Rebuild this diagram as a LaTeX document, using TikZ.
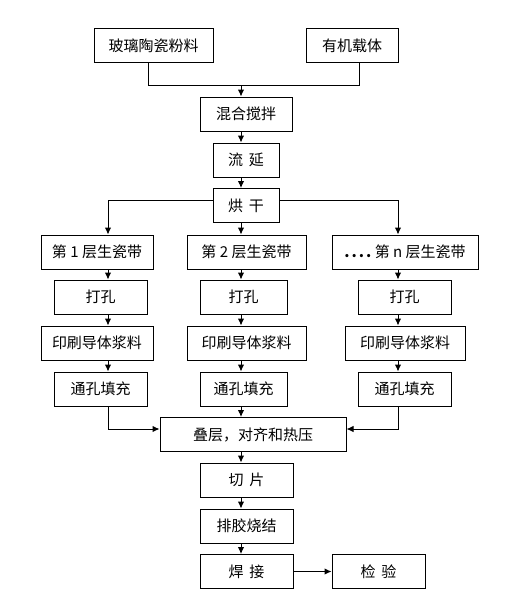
\documentclass[tikz,border=0pt]{standalone}
\usepackage{fontspec}
\setmainfont{Noto Sans CJK SC}
\usetikzlibrary{arrows.meta}
\newcommand{\gap}{\hspace{0.4em}}
\newcommand{\dotrow}{\textbf{.\kern2pt.\kern2pt.\kern2pt.}}
\tikzset{
  box/.style={draw, line width=1pt, inner sep=0pt, minimum height=34pt, font=\fontsize{15}{15}\selectfont},
  flow/.style={line width=1pt, -{Latex[length=7pt,width=6.5pt]}},
  link/.style={line width=1pt},
}
\begin{document}
\begin{tikzpicture}[x=1pt, y=-1pt]
    \useasboundingbox[fill=white] (0,0) rectangle (504,603);
    % Draw the raw materials and the common steps at the top.
    \node[box, minimum width=119pt] (glass) at (153.5,45.5) {玻璃陶瓷粉料};
    \node[box, minimum width=92pt] (vehicle) at (352,45.5) {有机载体};
    \node[box, minimum width=92pt] (mix) at (246,114) {混合搅拌};
    \node[box, minimum width=66pt] (cast) at (246,160) {流\gap 延};
    \node[box, minimum width=66pt] (dry) at (246,205.5) {烘\gap 干};
    % Columns of the arrows and the joining lines.
    \coordinate (colL) at (108,0);
    \coordinate (colM) at (241,0);
    \coordinate (colR) at (398,0);
    \coordinate (join) at (0,85);
    \coordinate (split) at (0,200);
    \coordinate (merge) at (0,429);
    % Draw the three green tape columns.
    \node[box, minimum width=112pt] (tapeA) at (97,252) {第 1 层生瓷带};
    \node[box, minimum width=119pt] (tapeB) at (246.5,252) {第 2 层生瓷带};
    \node[box, minimum width=146pt] (tapeC) at (405,252) {\dotrow\ 第 n 层生瓷带};
    \node[box, minimum width=93pt] (punchA) at (100.5,297) {打孔};
    \node[box, minimum width=87pt] (punchB) at (243.5,297) {打孔};
    \node[box, minimum width=93pt] (punchC) at (404.5,297) {打孔};
    \node[box, minimum width=112pt] (printA) at (97,343) {印刷导体浆料};
    \node[box, minimum width=119pt] (printB) at (246.5,343) {印刷导体浆料};
    \node[box, minimum width=120pt] (printC) at (405,343) {印刷导体浆料};
    \node[box, minimum width=93pt] (fillA) at (100.5,389) {通孔填充};
    \node[box, minimum width=87pt] (fillB) at (243.5,389) {通孔填充};
    \node[box, minimum width=93pt] (fillC) at (404.5,389) {通孔填充};
    % Draw the steps after lamination.
    \node[box, minimum width=186pt] (stack) at (253,434.5) {叠层，对齐和热压};
    \node[box, minimum width=93pt] (cut) at (246.5,480) {切\gap 片};
    \node[box, minimum width=93pt] (sinter) at (246.5,526) {排胶烧结};
    \node[box, minimum width=93pt] (weld) at (246.5,571.5) {焊\gap 接};
    \node[box, minimum width=93pt] (check) at (378.5,571.5) {检\gap 验};
    % Draw the joining of the two materials.
    \draw[link] (glass.south -| 148,0) |- (join -| colM);
    \draw[link] (vehicle.south -| 359,0) |- (join -| colM);
    \draw[flow] (join -| colM) -- (mix.north -| colM);
    \draw[flow] (mix.south -| colM) -- (cast.north -| colM);
    \draw[flow] (cast.south -| colM) -- (dry.north -| colM);
    % Draw the split into the columns.
    \draw[flow] (dry.west |- split) -| (tapeA.north -| colL);
    \draw[flow] (dry.east |- split) -| (tapeC.north -| colR);
    \draw[flow] (dry.south -| colM) -- (tapeB.north -| colM);
    \foreach \c/\col in {A/colL, B/colM, C/colR} {
      \draw[flow] (tape\c.south -| \col) -- (punch\c.north -| \col);
      \draw[flow] (punch\c.south -| \col) -- (print\c.north -| \col);
      \draw[flow] (print\c.south -| \col) -- (fill\c.north -| \col);
    }
    % Draw the merge into lamination and the last steps.
    \draw[flow] (fillA.south -| colL) |- (stack.west |- merge);
    \draw[flow] (fillC.south -| colR) |- (stack.east |- merge);
    \draw[flow] (fillB.south -| colM) -- (stack.north -| colM);
    \draw[flow] (stack.south -| colM) -- (cut.north -| colM);
    \draw[flow] (cut.south -| colM) -- (sinter.north -| colM);
    \draw[flow] (sinter.south -| colM) -- (weld.north -| colM);
    \draw[flow] (weld) -- (check);
\end{tikzpicture}
\end{document}
